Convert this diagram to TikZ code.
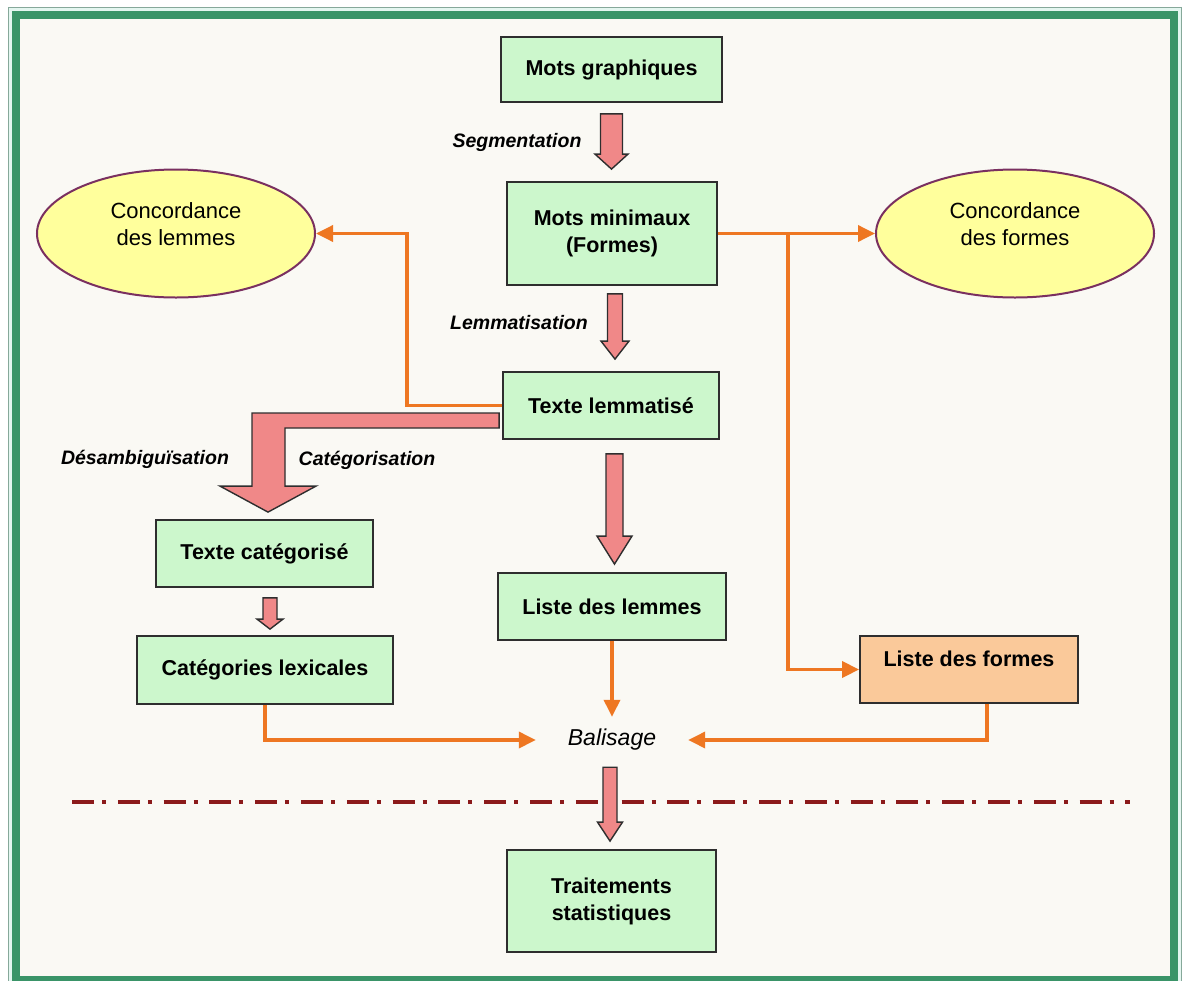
\documentclass[tikz,border=0pt]{standalone}
\usepackage{fontspec}
\setmainfont{Liberation Sans}
\usetikzlibrary{arrows.meta,calc,shapes.geometric}
\definecolor{boxfill}{HTML}{CCF7CC}
\definecolor{boxline}{HTML}{2E2E2E}
\definecolor{peach}{HTML}{FAC99A}
\definecolor{ellfill}{HTML}{FFFF9C}
\definecolor{ellline}{HTML}{7A3060}
\definecolor{arrfill}{HTML}{F08888}
\definecolor{orangeline}{HTML}{EE7722}
\definecolor{maroon}{HTML}{8B1A1A}
\definecolor{bgcream}{HTML}{FAF9F4}
\definecolor{framegreen}{HTML}{3A9468}
\definecolor{framepale}{HTML}{E4F6F0}
\definecolor{framethin}{HTML}{86A89A}
\tikzset{
  box/.style={draw=boxline, fill=boxfill, line width=1.8pt, inner sep=0pt, align=center,
    font=\bfseries\fontsize{21.5}{27}\selectfont},
  ell/.style={ellipse, draw=ellline, fill=ellfill, line width=2pt, inner sep=0pt,
    minimum width=278pt, minimum height=128pt},
  elltext/.style={align=center, font=\fontsize{22}{27}\selectfont},
  steplabel/.style={font=\bfseries\itshape\fontsize{19.5}{23}\selectfont},
  oarrow/.style={draw=orangeline, line width=3.5pt, -{Triangle[length=17pt,width=16pt]}},
  oline/.style={draw=orangeline, line width=3.5pt},
  blockarrow/.style={fill=arrfill, draw=boxline, line width=1.4pt, line join=miter},
  sepline/.style={draw=maroon, line width=4pt, dash pattern=on 22pt off 8pt on 4pt off 11.8pt}
}
\newcommand\fatarrow[5]{%
  \draw[blockarrow] let \p1=(#1), \p2=(#2) in
    (\x1-#3pt,\y1) -- (\x1+#3pt,\y1) -- (\x1+#3pt,\y2+#5pt) -- (\x1+#4pt,\y2+#5pt)
    -- (\x1,\y2) -- (\x1-#4pt,\y2+#5pt) -- (\x1-#3pt,\y2+#5pt) -- cycle;}
\begin{document}
\begin{tikzpicture}[x=1pt,y=-1pt]
\useasboundingbox (0,0) rectangle (1186,980);
% frame
\fill[white] (0,0) rectangle (1186,980);
\draw[framethin, fill=framepale, line width=1.2pt] (8.5,7.5) rectangle (1181.5,995);
\draw[framegreen, line width=8pt] (16,15) rectangle (1174,980);
\fill[bgcream] (20,19) rectangle (1170,976);

% nodes
\node[box, minimum width=221pt, minimum height=65pt] (mg) at (611.5,69.5) {Mots graphiques};
\node[box, minimum width=210pt, minimum height=103pt] (mm) at (612,233.5) {Mots minimaux\\(Formes)};
\node[box, minimum width=216pt, minimum height=67pt] (tl) at (611,405.5) {Texte lemmatisé};
\node[box, minimum width=217pt, minimum height=67pt] (tc) at (264.5,553.5) {Texte catégorisé};
\node[box, minimum width=256pt, minimum height=68pt] (cat) at (265,670) {Catégories lexicales};
\node[box, minimum width=228pt, minimum height=67pt] (ll) at (612,606.5) {Liste des lemmes};
\node[box, fill=peach, minimum width=218pt, minimum height=67pt] (lf) at (969,669.5)
  {\raisebox{9pt}[0.75em][0.2em]{Liste des formes}};
\node[box, minimum width=209pt, minimum height=102pt] (ts) at (611.5,901) {Traitements\\statistiques};

\node[ell] (cl) at (176,233.5) {};
\node[elltext] (cltext) at (176,224) {Concordance\\des lemmes};
\node[ell] (cf) at (1015,233.5) {};
\node[elltext] (cftext) at (1015,224) {Concordance\\des formes};

\node[inner sep=0pt, minimum width=152pt, minimum height=46pt,
  font=\itshape\fontsize{23}{27}\selectfont] (bal) at (612,740) {Balisage};

% labels
\node[steplabel] (lseg) at (517,142) {Segmentation};
\node[steplabel] (llem) at (519,323) {Lemmatisation};
\node[steplabel] (ldes) at (145,459) {Désambiguïsation};
\node[steplabel] (lcat) at (367,460) {Catégorisation};

% block arrows
\fatarrow{$(mg.south)+(0,11)$}{$(mm.north)+(0,-12)$}{11}{16.5}{15}
\fatarrow{$(mm.south)+(3,8)$}{$(tl.north)+(3,-12)$}{7.5}{14}{18}
\fatarrow{$(tl.south)+(3.5,14)$}{$(ll.north)+(3.5,-8)$}{8.5}{17.5}{28}
\fatarrow{$(tc.south)+(5.5,10)$}{$(cat.north)+(5.5,-6)$}{7}{13}{10}
\draw[blockarrow] let \p1=(tl.west), \p2=(tc.north) in
  (\x1-3pt,\y1-7.5pt) -- (\x2-12.5pt,\y1-7.5pt) -- (\x2-12.5pt,\y2+33pt)
  -- (\x2-44.5pt,\y2+33pt) -- (\x2+3.5pt,\y2+7pt) -- (\x2+51.5pt,\y2+33pt)
  -- (\x2+20.5pt,\y2+33pt) -- (\x2+20.5pt,\y1-22.5pt) -- (\x1-3pt,\y1-22.5pt) -- cycle;

% orange connectors
\coordinate (br) at (788,233.5);
\coordinate (lbend) at (407,233.5);
\draw[oarrow] (mm.east) -- (cf.west);
\draw[oarrow] (br) |- (lf.west);
\draw[oarrow] (tl.west) -| (lbend) -- (cl.east);
\draw[oarrow] (ll.south) -- (bal.north);
\draw[oarrow] (cat.south) |- (bal.west);
\draw[oarrow] ($(lf.south)+(18,0)$) |- (bal.east);

% separator
\coordinate (sepL) at (72,802);
\coordinate (sepR) at (1130,802);
\draw[sepline] (sepL) -- (sepR);
\fatarrow{$(bal.south)+(-2,4)$}{$(ts.north)+(-2,-8)$}{7}{12.5}{19}
\end{tikzpicture}
\end{document}
